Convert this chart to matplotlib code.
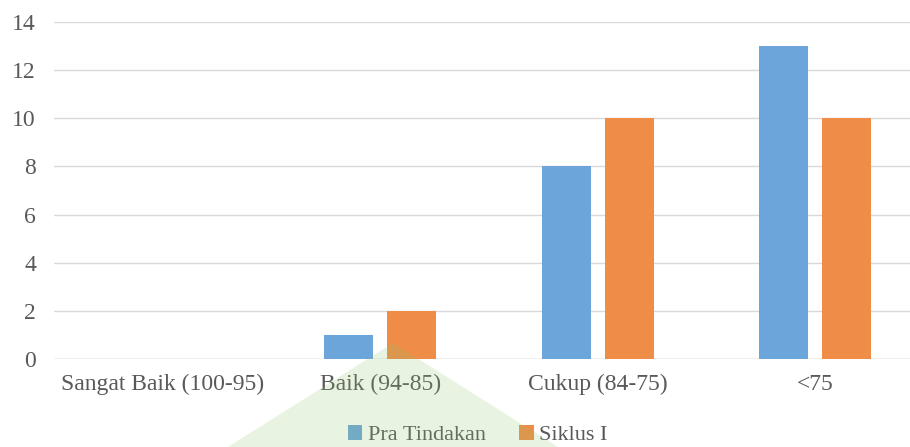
import numpy as np
import matplotlib
matplotlib.use("Agg")
import matplotlib.pyplot as plt
from matplotlib.patches import Polygon

categories = ["Sangat Baik (100-95)", "Baik (94-85)", "Cukup (84-75)", "<75"]
pra_tindakan = [0, 1, 8, 13]
siklus_1 = [0, 2, 10, 10]
series_names = ["Pra Tindakan", "Siklus I"]
yticks = [0, 2, 4, 6, 8, 10, 12, 14]

blue = "#6CA5DA"
orange = "#EF8C47"
grey = "#595959"

plt.rcParams["font.family"] = ["Liberation Serif", "DejaVu Serif"]

fig = plt.figure(figsize=(9.10, 4.47), dpi=100)
# axes run a little past the right edge, like the cropped original
ax = fig.add_axes([54 / 910, 1 - 359 / 447, 870 / 910, 337 / 447])

x = np.arange(len(categories))
w = 0.225
off = 0.144
ax.bar(x - off, pra_tindakan, w, color=blue, label=series_names[0], zorder=3)
ax.bar(x + off, siklus_1, w, color=orange, label=series_names[1], zorder=3)

ax.set_xlim(-0.5, len(categories) - 0.5)
ax.set_ylim(0, 14)
ax.set_yticks(yticks)
ax.yaxis.grid(True, color="#D9D9D9", linewidth=1.0, zorder=0)
ax.set_axisbelow(True)
for s in ax.spines.values():
    s.set_visible(False)
ax.axhline(0, color="#D9D9D9", linewidth=1.0, zorder=1)
ax.tick_params(axis="both", length=0, labelsize=17, labelcolor=grey)
ax.tick_params(axis="x", pad=11)
ax.tick_params(axis="y", pad=13)
ax.set_xticks(x)
ax.set_xticklabels(categories)

leg = fig.legend(loc="center", bbox_to_anchor=(0.525, 1 - 435 / 447), ncol=2,
                 frameon=False, fontsize=16, handlelength=0.65, handleheight=0.65,
                 handletextpad=0.25, columnspacing=1.5, borderpad=0)
for t in leg.get_texts():
    t.set_color(grey)

# faint green watermark triangle from the source page
wm = Polygon([(393 / 910, 1 - 343 / 447), (228 / 910, 0), (558 / 910, 0)],
             closed=True, transform=fig.transFigure, facecolor="#8cc46a",
             alpha=0.2, edgecolor="none", zorder=10)
fig.patches.append(wm)

fig.savefig("out.png", dpi=100)
